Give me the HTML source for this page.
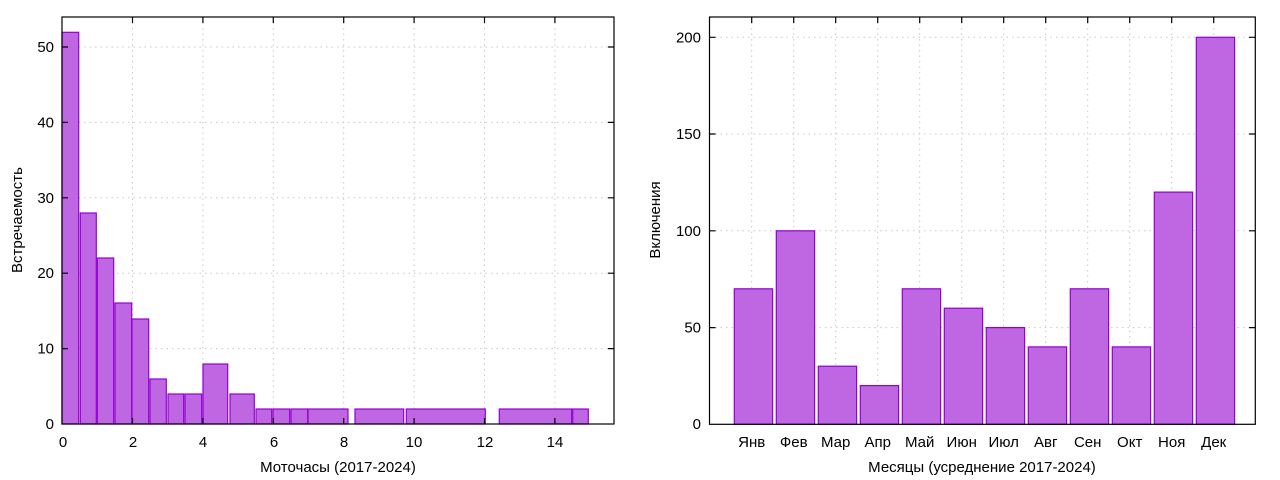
<!DOCTYPE html>
<html><head><meta charset="utf-8"><style>
body{margin:0;background:#fff;}
svg{display:block;font-family:"Liberation Sans","DejaVu Sans",sans-serif;font-size:15px;}
</style></head><body>
<svg width="1280" height="480" viewBox="0 0 1280 480">
<g stroke="#c8c8c8" stroke-width="1" stroke-dasharray="1.5,4">
<line x1="62" y1="348.6" x2="614" y2="348.6"/><line x1="62" y1="273.2" x2="614" y2="273.2"/>
<line x1="62" y1="197.8" x2="614" y2="197.8"/><line x1="62" y1="122.4" x2="614" y2="122.4"/>
<line x1="62" y1="47" x2="614" y2="47"/>
<line x1="132.5" y1="17" x2="132.5" y2="424"/><line x1="202.9" y1="17" x2="202.9" y2="424"/>
<line x1="273.3" y1="17" x2="273.3" y2="424"/><line x1="343.7" y1="17" x2="343.7" y2="424"/>
<line x1="414.1" y1="17" x2="414.1" y2="424"/><line x1="484.5" y1="17" x2="484.5" y2="424"/>
<line x1="554.9" y1="17" x2="554.9" y2="424"/>
<line x1="709.5" y1="327.6" x2="1255" y2="327.6"/><line x1="709.5" y1="230.8" x2="1255" y2="230.8"/>
<line x1="709.5" y1="134" x2="1255" y2="134"/><line x1="709.5" y1="37.3" x2="1255" y2="37.3"/>
<line x1="751.7" y1="17" x2="751.7" y2="424"/><line x1="793.7" y1="17" x2="793.7" y2="424"/>
<line x1="835.7" y1="17" x2="835.7" y2="424"/><line x1="877.7" y1="17" x2="877.7" y2="424"/>
<line x1="919.7" y1="17" x2="919.7" y2="424"/><line x1="961.7" y1="17" x2="961.7" y2="424"/>
<line x1="1003.7" y1="17" x2="1003.7" y2="424"/><line x1="1045.7" y1="17" x2="1045.7" y2="424"/>
<line x1="1087.7" y1="17" x2="1087.7" y2="424"/><line x1="1129.7" y1="17" x2="1129.7" y2="424"/>
<line x1="1171.7" y1="17" x2="1171.7" y2="424"/><line x1="1213.7" y1="17" x2="1213.7" y2="424"/>
</g>
<g fill="#bf67e3" stroke="#9400d3" stroke-width="1.2">
<rect x="62" y="32.3" width="16.7" height="391.7"/>
<rect x="80.3" y="213" width="16" height="211"/>
<rect x="97.3" y="258" width="16.4" height="166"/>
<rect x="115" y="303" width="16.7" height="121"/>
<rect x="132" y="319" width="16.7" height="105"/>
<rect x="150" y="379" width="16.3" height="45"/>
<rect x="168" y="394" width="15.7" height="30"/>
<rect x="185" y="394" width="16.7" height="30"/>
<rect x="203" y="364" width="24.7" height="60"/>
<rect x="230" y="394" width="24.3" height="30"/>
<rect x="256" y="409" width="15.7" height="15"/>
<rect x="273" y="409" width="16.7" height="15"/>
<rect x="291" y="409" width="16.7" height="15"/>
<rect x="308" y="409" width="40" height="15"/>
<rect x="355" y="409" width="48.7" height="15"/>
<rect x="406.3" y="409" width="79" height="15"/>
<rect x="499.3" y="409" width="72.4" height="15"/>
<rect x="572.7" y="409" width="15.6" height="15"/>
<rect x="734.3" y="288.8" width="38.3" height="135.5"/>
<rect x="776.3" y="230.8" width="38.3" height="193.5"/>
<rect x="818.3" y="366.2" width="38.3" height="58.1"/>
<rect x="860.3" y="385.6" width="38.3" height="38.7"/>
<rect x="902.3" y="288.8" width="38.3" height="135.5"/>
<rect x="944.3" y="308.2" width="38.3" height="116.1"/>
<rect x="986.3" y="327.6" width="38.3" height="96.7"/>
<rect x="1028.3" y="346.9" width="38.3" height="77.4"/>
<rect x="1070.3" y="288.8" width="38.3" height="135.5"/>
<rect x="1112.3" y="346.9" width="38.3" height="77.4"/>
<rect x="1154.3" y="192.1" width="38.3" height="232.2"/>
<rect x="1196.3" y="37.3" width="38.3" height="387"/>
</g>
<g stroke="#000" stroke-width="1.2" fill="none">
<rect x="62" y="17" width="552" height="407"/>
<rect x="709.5" y="17" width="545.8" height="407.3"/>
<path d="M62 348.6h6M62 273.2h6M62 197.8h6M62 122.4h6M62 47h6M614 348.6h-6M614 273.2h-6M614 197.8h-6M614 122.4h-6M614 47h-6
M132.5 424v-6M202.9 424v-6M273.3 424v-6M343.7 424v-6M414.1 424v-6M484.5 424v-6M554.9 424v-6
M132.5 17v6M202.9 17v6M273.3 17v6M343.7 17v6M414.1 17v6M484.5 17v6M554.9 17v6"/>
<path d="M709.5 327.6h6M709.5 230.8h6M709.5 134h6M709.5 37.3h6M1255 327.6h-6M1255 230.8h-6M1255 134h-6M1255 37.3h-6
M751.7 17v6M793.7 17v6M835.7 17v6M877.7 17v6M919.7 17v6M961.7 17v6M1003.7 17v6M1045.7 17v6M1087.7 17v6M1129.7 17v6M1171.7 17v6M1213.7 17v6"/>
</g>
<g fill="#000" text-anchor="end">
<text x="54" y="429">0</text><text x="54" y="353.6">10</text><text x="54" y="278.2">20</text>
<text x="54" y="202.8">30</text><text x="54" y="127.4">40</text><text x="54" y="52">50</text>
<text x="701" y="429">0</text><text x="701" y="332.6">50</text><text x="701" y="235.8">100</text>
<text x="701" y="139">150</text><text x="701" y="42.3">200</text>
</g>
<g fill="#000" text-anchor="middle">
<text x="63" y="447">0</text><text x="133" y="447">2</text><text x="203" y="447">4</text>
<text x="274" y="447">6</text><text x="344" y="447">8</text><text x="414" y="447">10</text>
<text x="485" y="447">12</text><text x="555" y="447">14</text>
<text x="751.7" y="447">Янв</text><text x="793.7" y="447">Фев</text><text x="835.7" y="447">Мар</text>
<text x="877.7" y="447">Апр</text><text x="919.7" y="447">Май</text><text x="961.7" y="447">Июн</text>
<text x="1003.7" y="447">Июл</text><text x="1045.7" y="447">Авг</text><text x="1087.7" y="447">Сен</text>
<text x="1129.7" y="447">Окт</text><text x="1171.7" y="447">Ноя</text><text x="1213.7" y="447">Дек</text>
<text x="338" y="472">Моточасы (2017-2024)</text>
<text x="982" y="472">Месяцы (усреднение 2017-2024)</text>
<text transform="translate(22,220) rotate(-90)">Встречаемость</text>
<text transform="translate(660,220) rotate(-90)">Включения</text>
</g>
</svg>
</body></html>
